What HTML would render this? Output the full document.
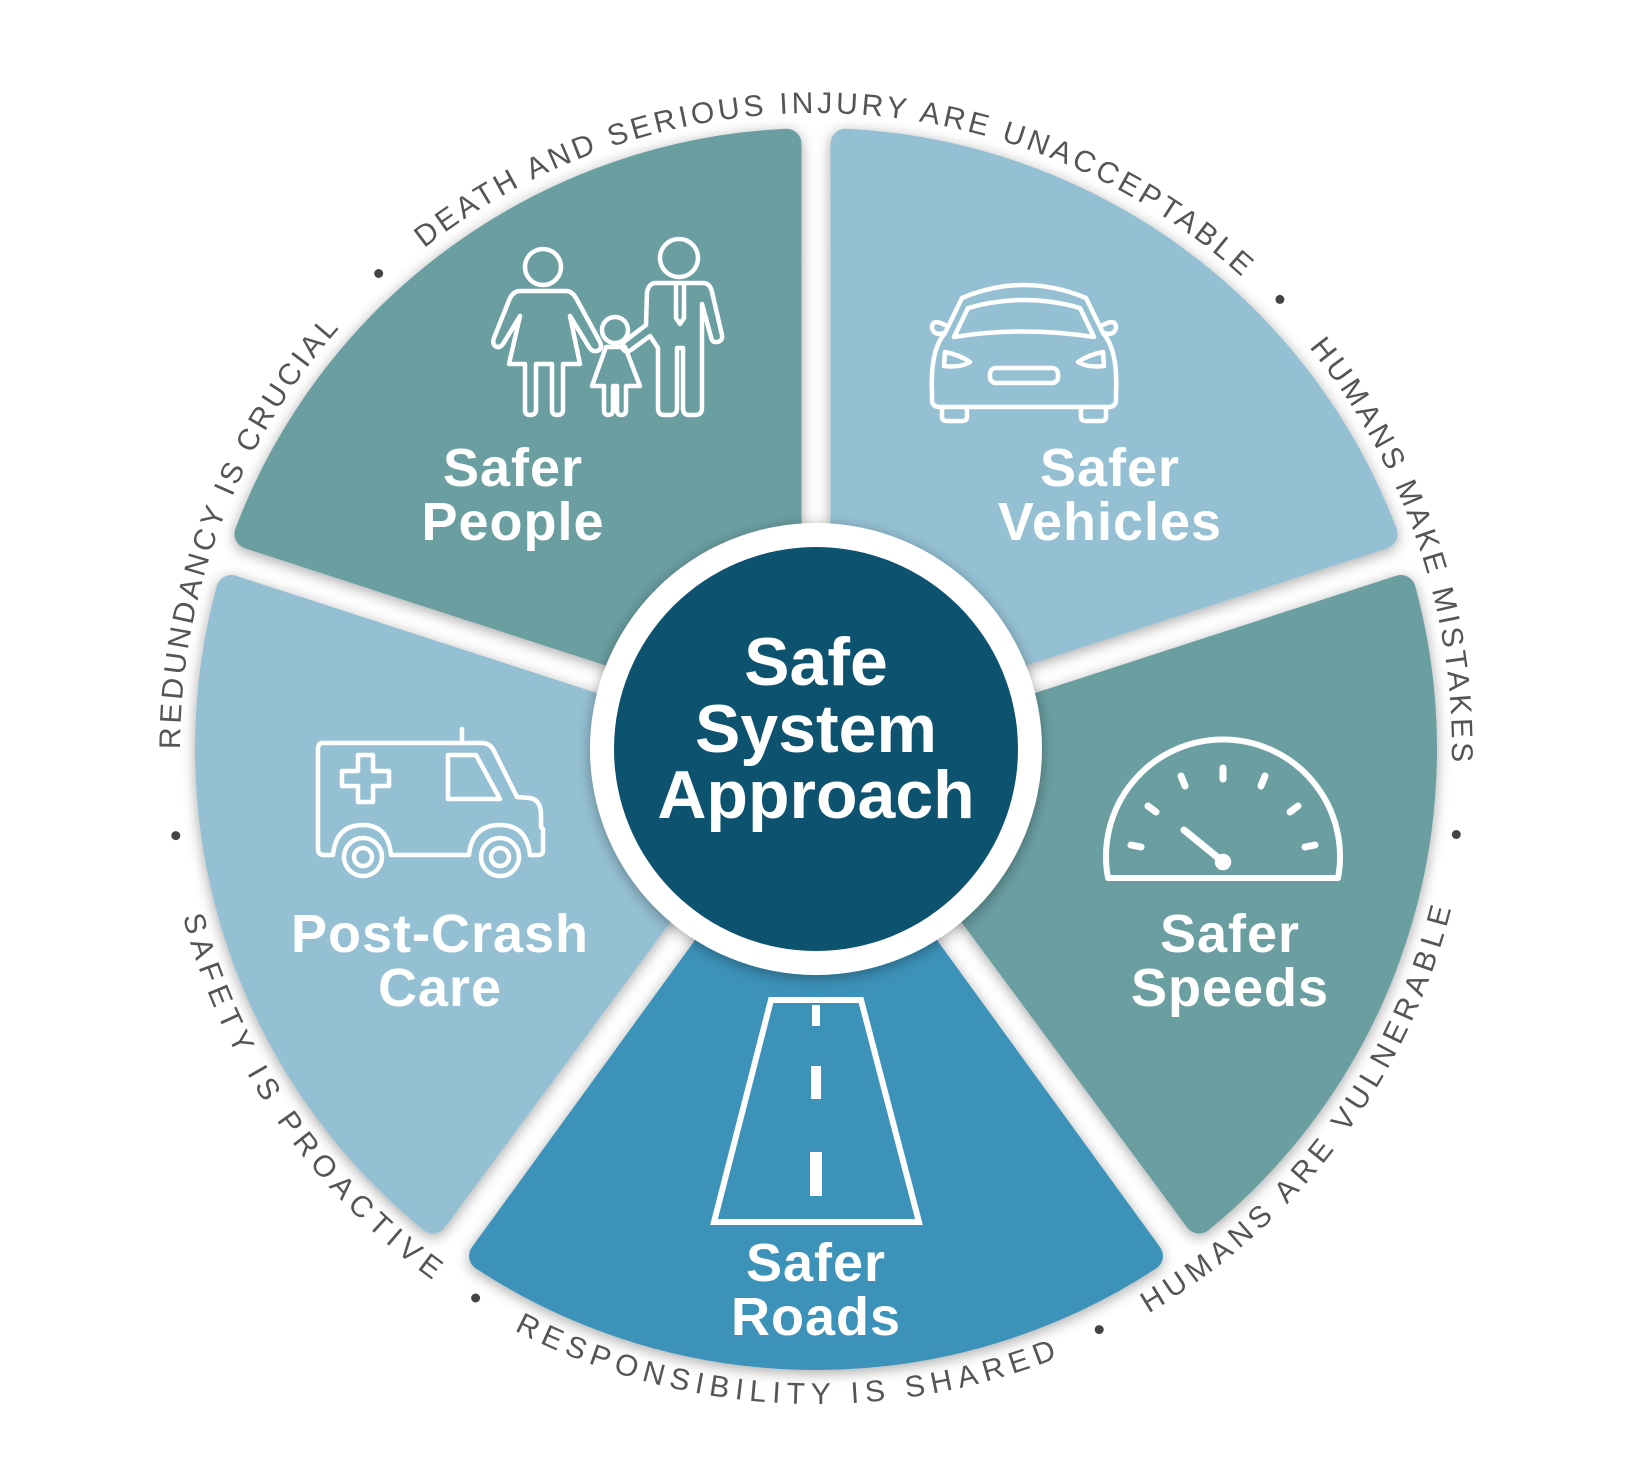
<!DOCTYPE html>
<html><head><meta charset="utf-8"><style>
html,body{margin:0;padding:0;background:#fff;}
svg{display:block;}
</style></head><body>
<svg width="1633" height="1469" viewBox="0 0 1633 1469" xmlns="http://www.w3.org/2000/svg">
<defs>
<filter id="sh" x="-20%" y="-20%" width="140%" height="140%">
<feGaussianBlur in="SourceAlpha" stdDeviation="7"/>
<feOffset dx="0" dy="3"/>
<feComponentTransfer><feFuncA type="linear" slope="0.35"/></feComponentTransfer>
<feMerge><feMergeNode/><feMergeNode in="SourceGraphic"/></feMerge>
</filter>
<path id="topc" d="M816,1385 A636,636 0 0 1 816,113 A636,636 0 0 1 816,1385"/>
<path id="botc" d="M816,94 A655,655 0 0 0 816,1404 A655,655 0 0 0 816,94"/>
</defs>
<rect width="1633" height="1469" fill="#fff"/>

<g filter="url(#sh)" stroke-width="30" stroke-linejoin="round">
<path d="M786.6,708.5 L249.4,534 A606,606 0 0 1 786.5,143.7 Z" fill="#6a9ea1" stroke="#6a9ea1"/>
<path d="M845.4,708.5 L845.5,143.7 A606,606 0 0 1 1382.6,534 Z" fill="#95c0d3" stroke="#95c0d3"/>
<path d="M863.6,764.5 L1400.8,590 A606,606 0 0 1 1199.1,1218.5 Z" fill="#6a9ea1" stroke="#6a9ea1"/>
<path d="M816,799 L1147.9,1256 A606,606 0 0 1 484.1,1256 Z" fill="#3d92b9" stroke="#3d92b9"/>
<path d="M768.4,764.5 L432.9,1218.5 A606,606 0 0 1 231.2,590 Z" fill="#95c0d3" stroke="#95c0d3"/>
</g>

<circle cx="816" cy="749" r="226" fill="#fff" filter="url(#sh)"/>
<circle cx="816" cy="749" r="202" fill="#0d526e"/>

<g font-family="Liberation Sans, Arial, sans-serif" font-weight="bold" fill="#fff" text-anchor="middle">
<text x="816" y="685" font-size="68">Safe</text>
<text x="816" y="752" font-size="68">System</text>
<text x="816" y="818" font-size="68">Approach</text>
<g font-size="54" letter-spacing="1">
<text x="513" y="486">Safer</text><text x="513" y="540">People</text>
<text x="1110" y="486">Safer</text><text x="1110" y="540">Vehicles</text>
<text x="1230" y="952">Safer</text><text x="1230" y="1006">Speeds</text>
<text x="816" y="1281">Safer</text><text x="816" y="1335">Roads</text>
<text x="440" y="952">Post-Crash</text><text x="440" y="1006">Care</text>
</g>
</g>

<g font-family="Liberation Sans, Arial, sans-serif" font-size="30" fill="#555" text-anchor="middle">
<g transform="rotate(2 816 749)"><text><textPath href="#topc" startOffset="50%" textLength="889" lengthAdjust="spacing">DEATH AND SERIOUS INJURY ARE UNACCEPTABLE</textPath></text></g>
<g transform="rotate(71 816 749)"><text><textPath href="#topc" startOffset="50%" textLength="448" lengthAdjust="spacing">HUMANS MAKE MISTAKES</textPath></text></g>
<g transform="rotate(-69.3 816 749)"><text><textPath href="#topc" startOffset="50%" textLength="460" lengthAdjust="spacing">REDUNDANCY IS CRUCIAL</textPath></text></g>
<g transform="rotate(-53.2 816 749)"><text><textPath href="#botc" startOffset="50%" textLength="519" lengthAdjust="spacing">HUMANS ARE VULNERABLE</textPath></text></g>
<g transform="rotate(2.9 816 749)"><text><textPath href="#botc" startOffset="50%" textLength="561" lengthAdjust="spacing">RESPONSIBILITY IS SHARED</textPath></text></g>
<g transform="rotate(55.5 816 749)"><text><textPath href="#botc" startOffset="50%" textLength="450" lengthAdjust="spacing">SAFETY IS PROACTIVE</textPath></text></g>
</g>
<g fill="#444">
<circle cx="378.7" cy="273.5" r="4.5"/><circle cx="1279.9" cy="299.4" r="4.5"/>
<circle cx="1456.3" cy="834.5" r="4.5"/><circle cx="1099.2" cy="1329.6" r="4.5"/>
<circle cx="475.6" cy="1298" r="4.5"/><circle cx="175.8" cy="835.6" r="4.5"/>
</g>

<g fill="none" stroke="#fff" stroke-width="4.5" stroke-linejoin="round" stroke-linecap="round">
<circle cx="543" cy="267" r="18"/>
<path d="M520,291 L566,291 Q572,291 576,298 L600,342 Q603,349 597,351 Q592,352 589,347 L570,316 L580,364 L563,364 L563,410 Q563,415 557,415 Q552,415 552,410 L552,364 L536,364 L536,410 Q536,415 530,415 Q525,415 525,410 L525,364 L509,364 L520,316 L503,344 Q499,349 495,346 Q492,343 494,338 L510,298 Q514,291 520,291 Z"/>
<circle cx="679" cy="258" r="19"/>
<path d="M656,283 L703,283 Q710,283 712,292 L722,335 Q723,341 717,342 Q712,343 711,337 L702,304 L702,408 Q702,415 695,415 L689,415 Q683,415 683,408 L683,348 L677,348 L677,408 Q677,415 670,415 L664,415 Q658,415 658,408 L658,348 L650,336 L631,350 Q626,353 623,349 Q621,345 625,341 L646,325 L647,292 Q649,283 656,283 Z"/>
<path d="M676,284 L676,318 L680,324 L684,318 L684,284"/>
<circle cx="615" cy="330" r="13"/>
<path d="M606,347 L625,347 L640,386 L626,386 L626,410 Q626,415 621,415 Q617,415 617,410 L617,386 L613,386 L613,410 Q613,415 608,415 Q604,415 604,410 L604,386 L592,386 L606,347 Z"/>
<path d="M962,298 Q1024,272 1086,298 L1103,333 Q1118,350 1116,392 L1116,400 Q1116,407 1108,407 L940,407 Q932,407 932,400 L932,392 Q930,350 945,333 Z"/>
<path d="M968,308 Q1024,292 1080,308 L1094,337 Q1024,326 954,337 Z"/>
<path d="M945,325 Q932,318 932,328 Q934,336 944,333"/>
<path d="M1103,325 Q1116,318 1116,328 Q1114,336 1104,333"/>
<path d="M945,352 Q960,355 970,362 Q960,368 944,366 Z"/>
<path d="M1103,352 Q1088,355 1078,362 Q1088,368 1104,366 Z"/>
<rect x="990" y="368" width="68" height="15" rx="6"/>
<path d="M942,407 L942,417 Q942,421 947,421 L962,421 Q967,421 967,417 L967,407"/>
<path d="M1081,407 L1081,417 Q1081,421 1086,421 L1101,421 Q1106,421 1106,417 L1106,407"/>
<path d="M462,729 L462,743"/>
<path d="M322,743 L482,743 Q490,743 494,751 L517,797 L530,798 Q541,800 541,815 L541,827 L543,829 L543,851 Q543,855 538,855 L530,855 Q527,825 500,825 Q472,825 469,855 L391,855 Q388,825 363,825 Q336,825 333,855 L324,855 Q318,855 318,849 L318,750 Q318,743 322,743 Z"/>
<path d="M448,755 L476,755 L500,799 L448,799 Z"/>
<path d="M358,755 L373,755 L373,771 L389,771 L389,786 L373,786 L373,802 L358,802 L358,786 L342,786 L342,771 L358,771 Z"/>
<circle cx="363" cy="857" r="19"/><circle cx="363" cy="857" r="9"/>
<circle cx="500" cy="857" r="19"/><circle cx="500" cy="857" r="9"/>
<path d="M1108,878 L1338,878 A117,117 0 1 0 1108,878 Z" stroke-width="6"/>
<g stroke-width="7">
<path d="M1223,768 L1223,779"/>
<path d="M1181,776 L1185,786"/><path d="M1265,776 L1261,786"/>
<path d="M1148,806 L1156,812"/><path d="M1298,806 L1290,812"/>
<path d="M1131,845 L1141,847"/><path d="M1315,845 L1305,847"/>
<path d="M1184,830 L1222,861"/>
</g>
<circle cx="1223" cy="862" r="6" fill="#fff"/>
<path d="M771,1000 L861,1000 L919,1222 L714,1222 Z" stroke-width="6" stroke-linejoin="miter"/>
</g>
<g fill="#fff">
<rect x="812" y="1005" width="8" height="21"/>
<rect x="811" y="1066" width="10" height="33"/>
<rect x="810" y="1152" width="12" height="44"/>
</g>
</svg>
</body></html>
